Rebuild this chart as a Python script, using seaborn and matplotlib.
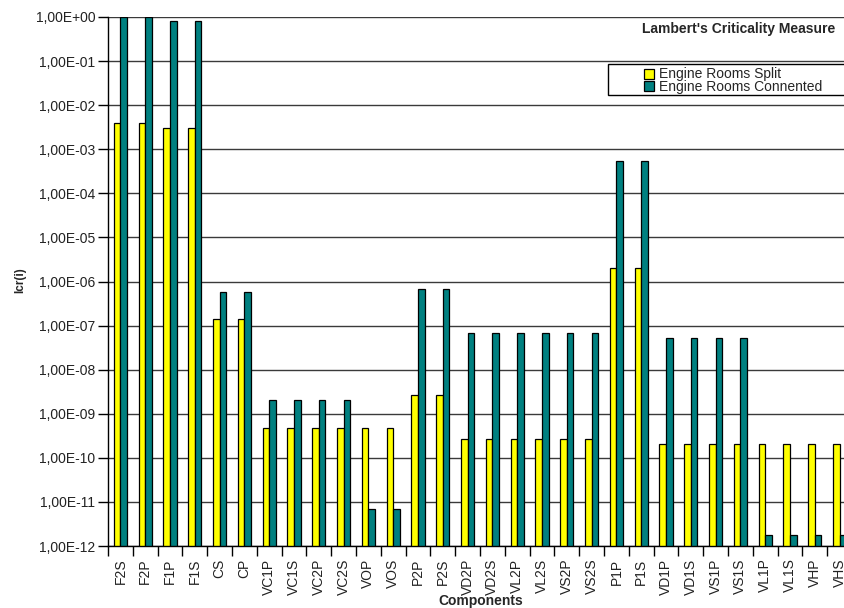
import numpy as np
import pandas as pd
import matplotlib
matplotlib.use("Agg")
import matplotlib.pyplot as plt
from matplotlib.ticker import FixedLocator, FuncFormatter, NullLocator
from matplotlib.lines import Line2D
from matplotlib.patches import Rectangle
import seaborn as sns

components = ["F2S", "F2P", "F1P", "F1S", "CS", "CP", "VC1P", "VC1S", "VC2P", "VC2S",
              "VOP", "VOS", "P2P", "P2S", "VD2P", "VD2S", "VL2P", "VL2S", "VS2P", "VS2S",
              "P1P", "P1S", "VD1P", "VD1S", "VS1P", "VS1S", "VL1P", "VL1S", "VHP", "VHS"]

split = [4.0e-3, 4.0e-3, 3.0e-3, 3.0e-3, 1.4e-7, 1.4e-7,
         4.8e-10, 4.8e-10, 4.8e-10, 4.8e-10, 4.8e-10, 4.8e-10,
         2.7e-9, 2.7e-9,
         2.7e-10, 2.7e-10, 2.7e-10, 2.7e-10, 2.7e-10, 2.7e-10,
         2.0e-6, 2.0e-6,
         2.1e-10, 2.1e-10, 2.1e-10, 2.1e-10, 2.1e-10, 2.1e-10, 2.1e-10, 2.1e-10]

connected = [1.0, 1.0, 0.8, 0.8, 5.9e-7, 5.9e-7,
             2.0e-9, 2.0e-9, 2.0e-9, 2.0e-9, 6.9e-12, 6.9e-12,
             6.6e-7, 6.6e-7,
             6.7e-8, 6.7e-8, 6.7e-8, 6.7e-8, 6.7e-8, 6.7e-8,
             5.3e-4, 5.3e-4,
             5.1e-8, 5.1e-8, 5.1e-8, 5.1e-8, 1.75e-12, 1.75e-12, 1.75e-12, 1.75e-12]

series_names = ["Engine Rooms Split", "Engine Rooms Connented"]
series_colors = ["#FFFF00", "#008080"]
decades = list(range(-12, 1))

df = pd.DataFrame({
    "Components": components * 2,
    "Icr": split + connected,
    "Series": [series_names[0]] * len(components) + [series_names[1]] * len(components),
})

sns.set_theme(style="white")
plt.rcParams["font.family"] = ["Liberation Sans", "DejaVu Sans"]

W, H = 845, 608
fig = plt.figure(figsize=(W / 100, H / 100), dpi=100)
ax = fig.add_axes([108 / W, 62 / H, 744 / W, 529 / H])
ax.set_yscale("log")

sns.barplot(data=df, x="Components", y="Icr", hue="Series", hue_order=series_names,
            palette=series_colors, saturation=1, width=0.54, gap=0, edgecolor="black",
            linewidth=0.9, legend=False, ax=ax, order=components)

ax.set_ylim(1e-12, 1.0)
ax.set_xlim(-0.5, len(components) - 0.5)

# decade gridlines and labels in the "1,00E-04" style
ax.yaxis.set_major_locator(FixedLocator([10.0 ** d for d in decades]))
ax.yaxis.set_minor_locator(NullLocator())
ax.yaxis.set_major_formatter(FuncFormatter(lambda v, p: "1,00E%+03d" % int(round(np.log10(v)))))
ax.grid(axis="y", color="#3a3a3a", linewidth=1.0)
ax.grid(axis="x", visible=False)
ax.set_axisbelow(True)

# category boundaries carry the tick marks, labels sit at centres
ax.set_xticks(np.arange(len(components) + 1) - 0.5, minor=True)
ax.tick_params(axis="x", which="major", length=0, pad=9, labelsize=10, labelrotation=90,
               labelcolor="#222222")
ax.tick_params(axis="x", which="minor", length=7, width=1, color="black", direction="out",
               bottom=True)
ax.tick_params(axis="y", which="major", length=7, width=1, color="black", direction="out",
               left=True, pad=2, labelsize=10, labelcolor="#222222")

for side in ["top", "right"]:
    ax.spines[side].set_visible(False)
for side in ["left", "bottom"]:
    ax.spines[side].set_visible(True)
    ax.spines[side].set_color("black")
    ax.spines[side].set_linewidth(1.0)

ax.set_xlabel("")
ax.set_ylabel("")

fig.text(481 / W, 1 - 601 / H, "Components", ha="center", va="center",
         fontsize=10, fontweight="bold")
fig.text(20 / W, 1 - 280 / H, "Icr(i)", ha="center", va="center", rotation=90,
         fontsize=8.5, fontweight="bold")
fig.text(835 / W, 1 - 29 / H, "Lambert's Criticality Measure", ha="right", va="center",
         fontsize=10, fontweight="bold")

# legend box runs off the right edge, with the entries set in from its left side
fig.patches.append(Rectangle((608 / W, 1 - 95 / H), 250 / W, 31 / H,
                             transform=fig.transFigure, facecolor="white",
                             edgecolor="black", linewidth=1.0, zorder=5))
handles = [Line2D([0], [0], marker="s", linestyle="none", markersize=7,
                  markerfacecolor=c, markeredgecolor="black", markeredgewidth=0.9)
           for c in series_colors]
leg = fig.legend(handles, series_names, loc="upper left",
                 bbox_to_anchor=(640 / W, 1 - 64 / H), fontsize=10, frameon=False,
                 handlelength=0.8, handletextpad=0.3, labelspacing=-0.1,
                 borderpad=0.25, borderaxespad=0)
leg.set_zorder(6)

fig.savefig("out.png", dpi=100)
